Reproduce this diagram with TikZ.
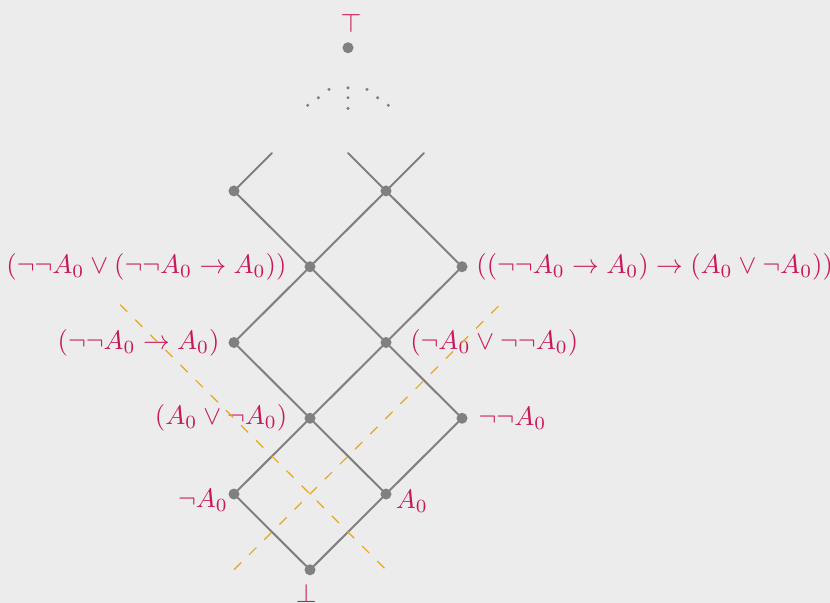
\documentclass[tikz,border=0pt]{standalone}
\usepackage{amsmath,amssymb}
\usepackage{xcolor}
\usepackage{tikz}
\usetikzlibrary{positioning}
\definecolor{canvas}{HTML}{ECECEC}
\definecolor{edgegray}{HTML}{808080}
\definecolor{crimson}{HTML}{C8175A}
\definecolor{amber}{HTML}{E6A817}
\tikzset{
    every picture/.style={line cap=round,line join=round},
    latnode/.style={circle,fill=edgegray,minimum size=1.45mm,inner sep=0pt,outer sep=0pt},
    latlabel/.style={inner sep=0pt,text=crimson,font=\normalsize},
    latedge/.style={draw=edgegray,line width=0.75pt},
    cutline/.style={draw=amber,line width=0.45pt,line cap=butt,dash pattern=on 3.8pt off 4.2pt}
}

\begin{document}
\begin{tikzpicture}[y=0.997cm]
    \useasboundingbox[fill=canvas] (-4.079,-0.435) rectangle (6.842,7.52);
    % lattice points
    \node[latnode] (bot) at (0,0) {};
    \node[latnode] (nega) at (-1,1) {};
    \node[latnode] (a) at (1,1) {};
    \node[latnode] (lem) at (0,2) {};
    \node[latnode] (nnega) at (2,2) {};
    \node[latnode] (dne) at (-1,3) {};
    \node[latnode] (wlem) at (1,3) {};
    \node[latnode] (orimp) at (0,4) {};
    \node[latnode] (impl) at (2,4) {};
    \node[latnode] (upl) at (-1,5) {};
    \node[latnode] (upr) at (1,5) {};
    \node[latnode] (top) at (0.5,6.89) {};
    \coordinate (stubl) at (-0.5,5.5);
    \coordinate (stubm) at (0.5,5.5);
    \coordinate (stubr) at (1.5,5.5);
    % order edges
    \foreach \u/\v in {bot/nega,bot/a,nega/lem,a/lem,a/nnega,lem/dne,lem/wlem,
        nnega/wlem,dne/orimp,wlem/orimp,wlem/impl,orimp/upl,orimp/upr,impl/upr,
        upl/stubl,upr/stubm,upr/stubr}
        \draw[latedge] (\u) -- (\v);
    % the lattice goes on upwards
    \foreach \p in {(-0.03,6.13),(0.11,6.23),(0.25,6.34),(0.5,6.09),(0.5,6.23),
        (0.5,6.36),(0.75,6.34),(0.89,6.23),(1.03,6.13)}
        \fill[edgegray] \p circle (0.022);
    % labels
    \node[latlabel,left=0.23cm of orimp] (lorimp) {$(\neg\neg A_0 \vee (\neg\neg A_0 \to A_0))$};
    \node[latlabel,right=0.11cm of impl] (limpl) {$((\neg\neg A_0 \to A_0) \to (A_0 \vee \neg A_0))$};
    \node[latlabel,left=0.11cm of dne] (ldne) {$(\neg\neg A_0 \to A_0)$};
    \node[latlabel,right=0.24cm of wlem] (lwlem) {$(\neg A_0 \vee \neg\neg A_0)$};
    \node[latlabel,left=0.22cm of lem] (llem) {$(A_0 \vee \neg A_0)$};
    \node[latlabel,right=0.14cm of nnega] (lnnega) {$\neg\neg A_0$};
    \node[latlabel,left=0cm of nega,yshift=-0.085cm] (lnega) {$\neg A_0$};
    \node[latlabel,right=0.05cm of a,yshift=-0.1cm] (la) {$A_0$};
    \node[latlabel,below=0.1cm of bot,xshift=-0.05cm] (lbot) {$\bot$};
    \node[latlabel,above=0.125cm of top,xshift=0.04cm] (ltop) {$\top$};
    % the two cuts
    \coordinate (cutaS) at (-2.5,3.5);
    \coordinate (cutaE) at (1,0);
    \coordinate (cutbS) at (-1,0);
    \coordinate (cutbE) at (2.5,3.5);
    \draw[cutline] (cutaS) -- (cutaE);
    \draw[cutline] (cutbS) -- (cutbE);
\end{tikzpicture}
\end{document}
